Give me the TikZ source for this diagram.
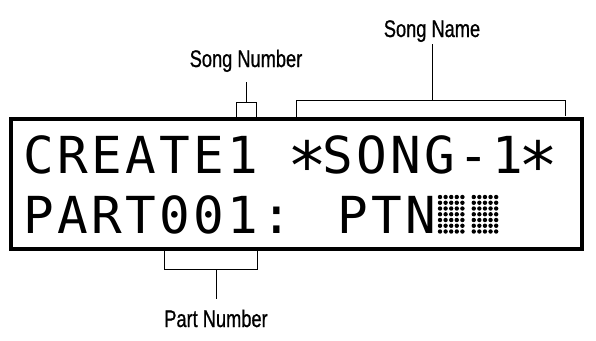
\documentclass[tikz,border=0pt]{standalone}
\usepackage{graphicx}
\usepackage{fontspec}
\setmainfont{Liberation Sans}
\newfontfamily\labelfont[FakeStretch=0.76,FakeBold=0.8]{Liberation Sans}
\newfontfamily\lcdfont[LetterSpace=6.5]{DejaVu Sans Mono}
\newcommand\lcdstar{\sbox0{*}\makebox[\wd0][c]{\raisebox{-16pt}{\scalebox{1.3}{*}}}}
\begin{document}
\begin{tikzpicture}[x=1pt,y=-1pt,
  lbl/.style={inner sep=0pt,font=\labelfont\fontsize{24}{27}\selectfont},
  lcdtext/.style={inner sep=0pt,anchor=base west,font=\lcdfont\fontsize{51}{51}\selectfont},
  lead/.style={line width=1pt},
  frame/.style={draw,line width=3.8pt,rectangle,minimum width=571pt,minimum height=130pt,inner sep=0pt},
  lcddot/.style={fill=black}]
\useasboundingbox (0,0) rectangle (596,340);
% LCD frame
\node[frame] (lcd) at (296.5,184) {};
% display text
\node[lcdtext] (row1) at (23,173) {CREATE1 \lcdstar SONG-1\lcdstar};
\node[lcdtext] (row2) at (23,233) {PART001: PTN};
% block characters
\foreach \c in {0,1}{
  \foreach \i in {0,...,4}{
    \foreach \j in {0,...,6}{
      \fill[lcddot] ({440+\c*33.75+\i*5.6},{197+\j*5.75}) circle (2.2);
    }
  }
}
% labels
\node[lbl,anchor=base] (sname) at (432,37) {Song Name};
\node[lbl,anchor=base] (snum) at (246,67) {Song Number};
\node[lbl,anchor=base] (pnum) at (216,327) {Part Number};
% Song Name bracket
\coordinate (snL) at (296,118);
\coordinate (snR) at (565,116);
\coordinate (snM) at (432,100);
\draw[lead] (snL) -- (snL |- snM) -- (snR |- snM) -- (snR);
\draw[lead] ([yshift=-2pt]sname.south) -- (snM);
% Song Number box
\coordinate (nbL) at (236,119);
\coordinate (nbR) at (256,119);
\coordinate (nbM) at (246,102);
\draw[lead] (nbL) -- (nbL |- nbM) -- (nbR |- nbM) -- (nbR);
\draw[lead] ([yshift=-10pt]snum.south) -- (nbM);
% Part Number bracket
\coordinate (pbL) at (164,250);
\coordinate (pbR) at (257,250);
\coordinate (pbM) at (216,269);
\draw[lead] (pbL) -- (pbL |- pbM) -- (pbR |- pbM) -- (pbR);
\draw[lead] (pbM) -- ([yshift=10pt]pnum.north);
\end{tikzpicture}
\end{document}
